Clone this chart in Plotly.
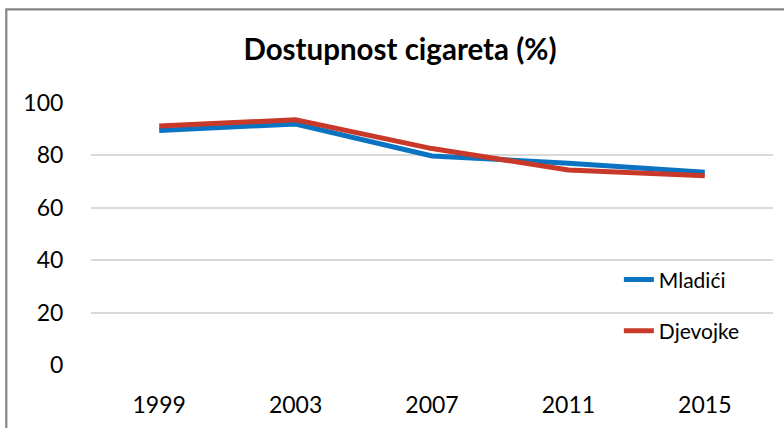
import plotly.graph_objects as go

years = ["1999", "2003", "2007", "2011", "2015"]
mladici = [89.5, 92.0, 79.8, 77.0, 73.6]
djevojke = [91.2, 93.6, 82.6, 74.4, 72.2]
y_ticks = [0, 20, 40, 60, 80, 100]

FONT = "Lato"

fig = go.Figure()
fig.add_trace(go.Scatter(x=years, y=mladici, name="Mladići", mode="lines",
                         line=dict(color="#0A74C2", width=5), legendgroup="a"))
fig.add_trace(go.Scatter(x=years, y=djevojke, name="Djevojke", mode="lines",
                         line=dict(color="#C9392A", width=5), legendgroup="b"))

fig.update_layout(
    width=784, height=428,
    margin=dict(l=91, r=11, t=103, b=63),
    paper_bgcolor="white", plot_bgcolor="white",
    font=dict(family=FONT, size=23, color="#000000"),
    title=dict(text="<b>Dostupnost cigareta (%)</b>", x=400 / 784, xanchor="center",
               y=1 - 50 / 428, yanchor="middle", font=dict(size=29.5, family=FONT, color="#000")),
    showlegend=True,
    legend=dict(x=0.774, y=0.403, xanchor="left", yanchor="top",
                bgcolor="rgba(0,0,0,0)", tracegroupgap=21,
                font=dict(size=21, family=FONT)),
    xaxis=dict(type="category", showgrid=False, showline=False, zeroline=False,
               ticks="outside", ticklen=19, tickcolor="rgba(0,0,0,0)",
               range=[-0.5, 4.5], tickfont=dict(size=23)),
    yaxis=dict(range=[0, 100], tickvals=y_ticks, showgrid=True, gridcolor="#D9D9D9",
               gridwidth=1.5, zeroline=False, showline=False,
               ticks="outside", ticklen=22, tickcolor="rgba(0,0,0,0)",
               tickfont=dict(size=23)),
    shapes=[dict(type="rect", xref="paper", yref="paper",
                 x0=(6.3 - 91) / 682, x1=1.05, y0=-0.5, y1=(365 - 9.3) / 262,
                 line=dict(color="#868686", width=2.2), fillcolor="rgba(0,0,0,0)",
                 layer="below")],
)

fig.write_html("out.html", config={"displayModeBar": False},
               post_script="document.body.style.margin='0';")
